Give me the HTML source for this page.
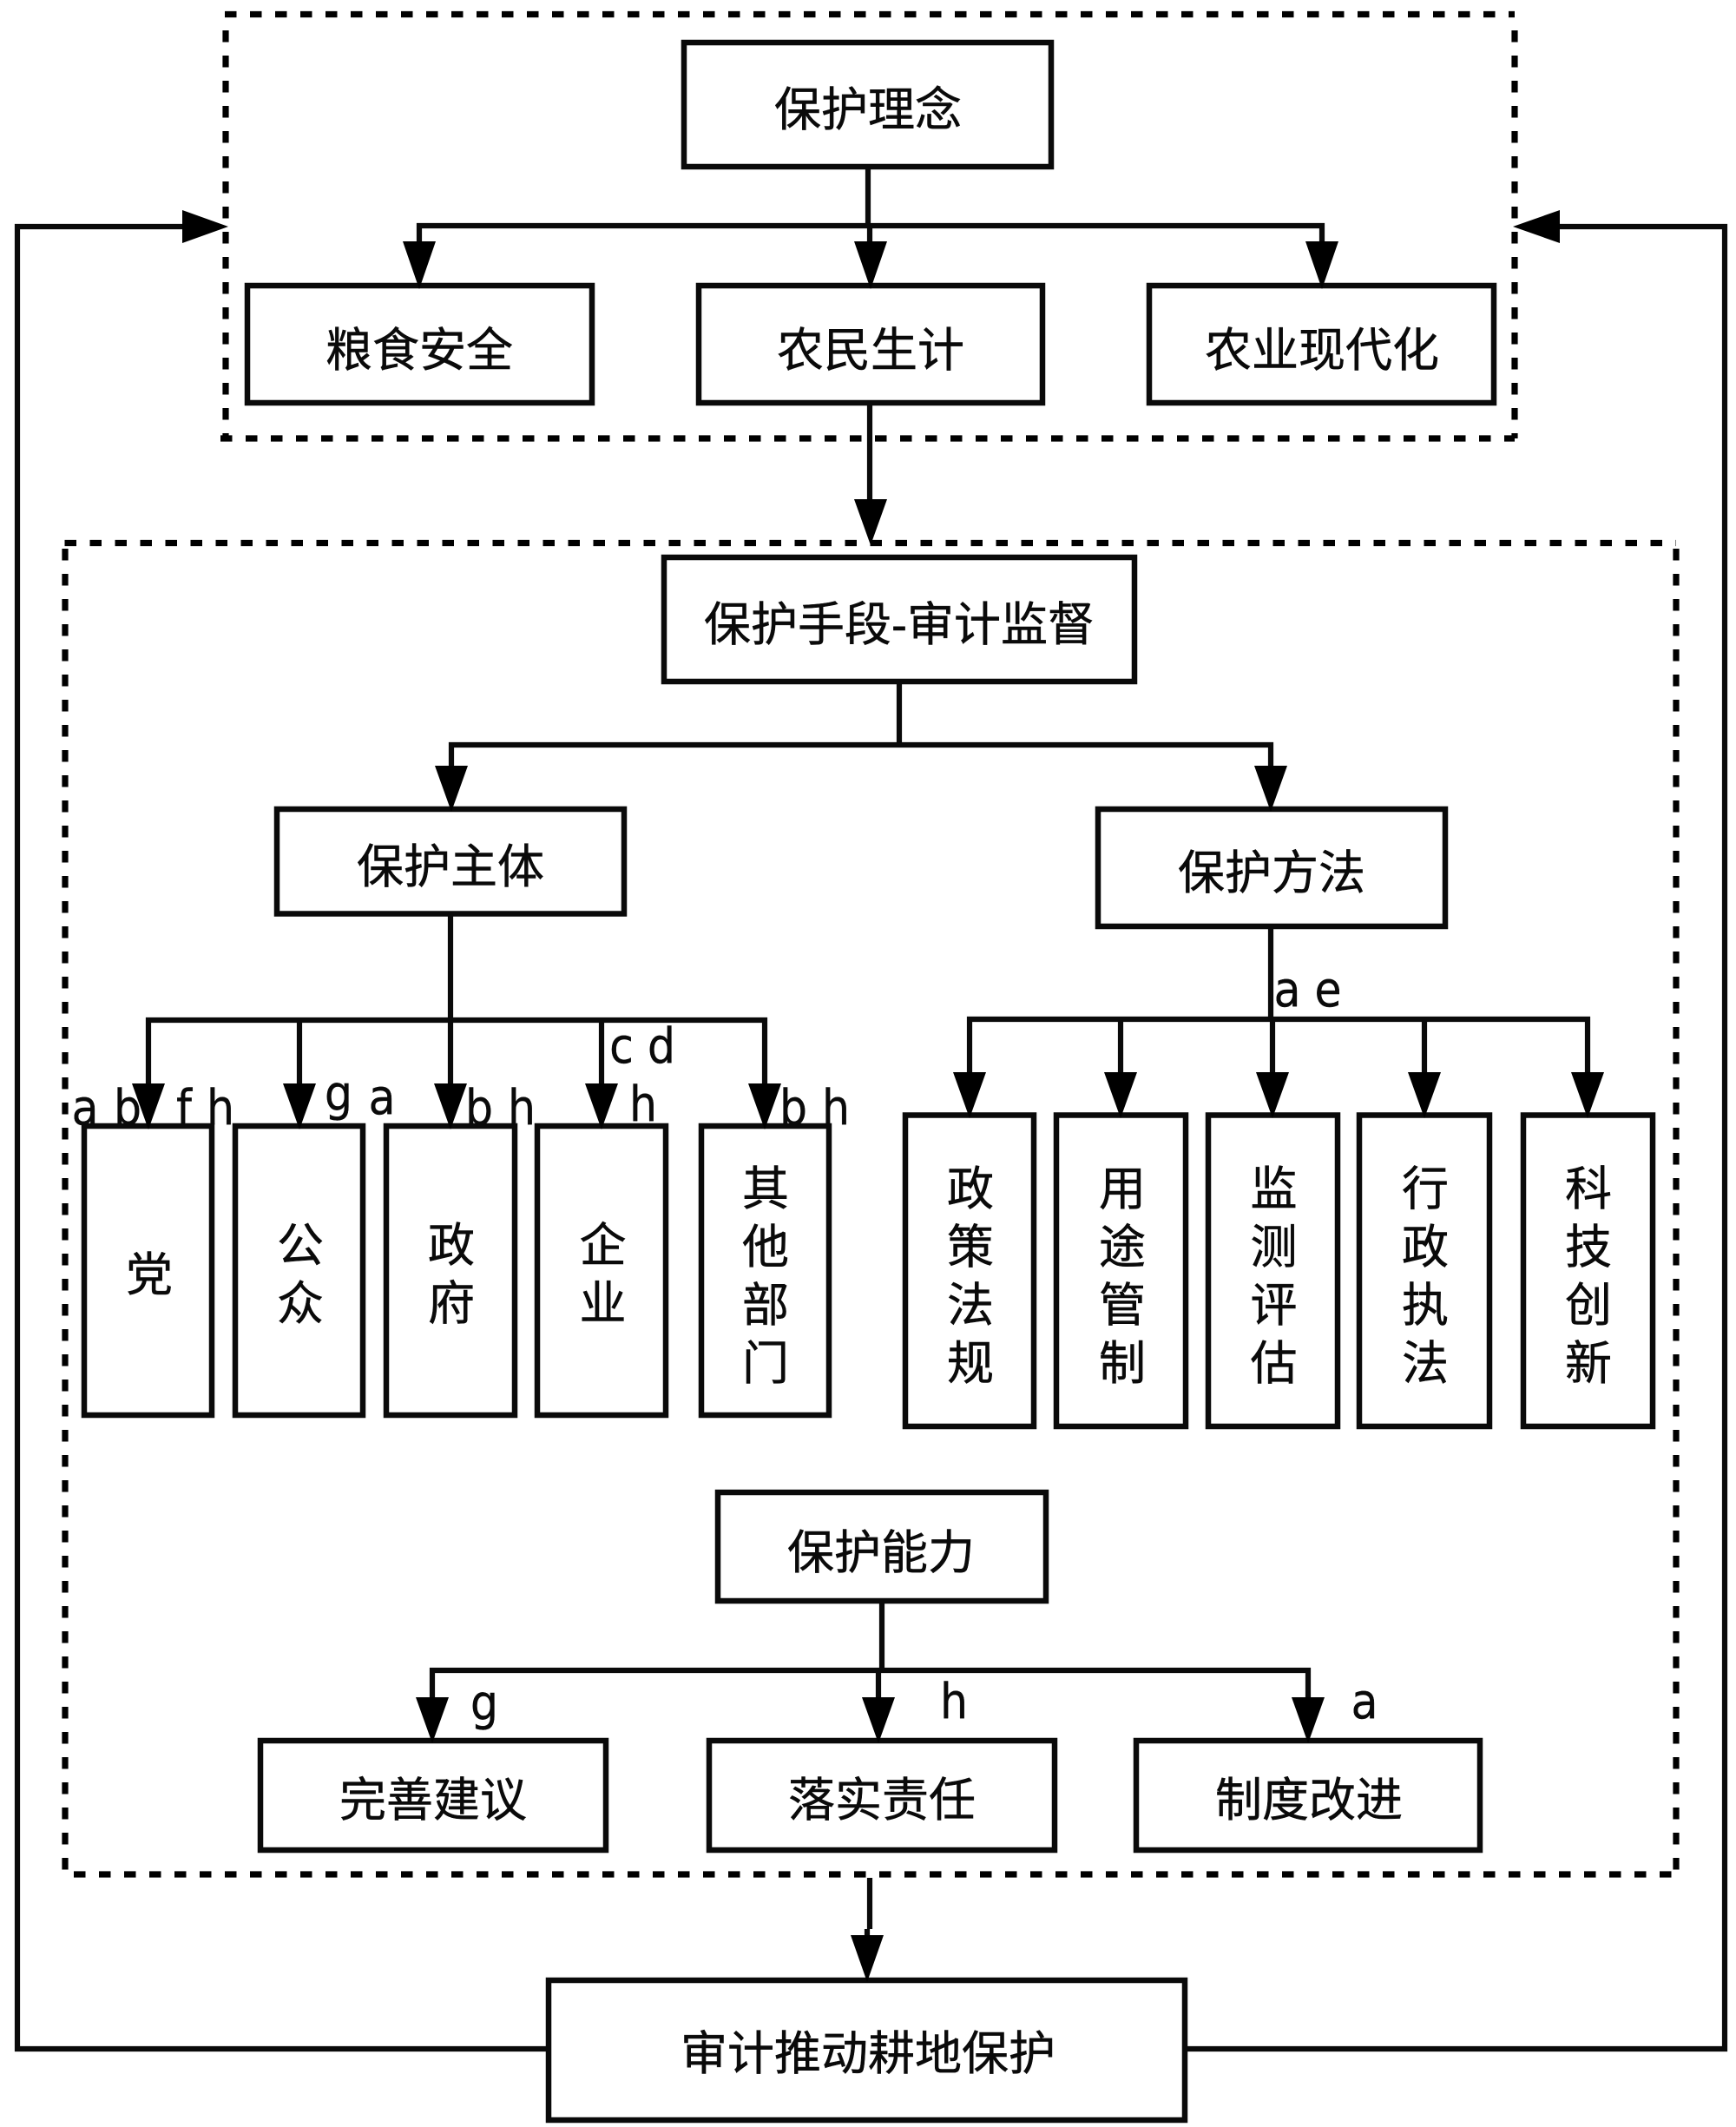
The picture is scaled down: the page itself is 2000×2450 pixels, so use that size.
<!DOCTYPE html>
<html><head><meta charset="utf-8"><style>
html,body{margin:0;padding:0;background:#fff}
svg{display:block}
.z{font-family:"Liberation Sans","Noto Sans CJK SC",sans-serif;font-size:54px;text-anchor:middle;fill:#0a0a0a;stroke:#0a0a0a;stroke-width:.5}
.l{font-family:"DejaVu Sans Condensed","DejaVu Sans",sans-serif;font-stretch:condensed;font-size:56px;text-anchor:middle;fill:#0a0a0a;stroke:#0a0a0a;stroke-width:.4}
.b{fill:#fff;stroke:#0a0a0a;stroke-width:6.5}
.c{fill:none;stroke:#0a0a0a;stroke-width:6.2}
.d{stroke:#000;stroke-width:7.2;stroke-dasharray:13.5 15.5;fill:none}
.h{fill:#000}
</style></head><body>
<svg xmlns="http://www.w3.org/2000/svg" width="2000" height="2450" viewBox="0 0 2000 2450">
<rect width="2000" height="2450" fill="#fff"/>
<!-- dashed groups -->
<path class="d" d="M259 16.5H1745M260 35V505M1745 35V505M254 505H1745"/>
<path class="d" d="M74.5 625.5H1931M75 632V2159M1931 632V2159M85 2159H1931"/>
<!-- feedback -->
<path class="c" d="M632 2360H20V261H215"/>
<path class="c" d="M1365 2360H1987V261H1792"/>
<polygon class="h" points="210,242 263,261 210,280"/>
<polygon class="h" points="1797,242 1743,261 1797,280"/>
<!-- connectors -->
<path class="c" d="M1000 192V260M483 285V260H1523V285M1002 260V285"/>
<path class="c" d="M1002 464V580"/>
<path class="c" d="M1036 785V858M520 890V858H1464V890"/>
<path class="c" d="M519 1052V1175M171 1255V1175H881V1255M345 1175V1255M519 1175V1255M693 1175V1255"/>
<path class="c" d="M1464 1067V1174M1117 1240V1174H1829V1240M1291 1174V1240M1466 1174V1240M1641 1174V1240"/>
<path class="c" d="M1016 1844V1924M498 1960V1924H1507V1960M1012 1924V1960"/>
<path class="c" d="M1002 2163V2222M999 2222V2240"/>
<!-- boxes -->
<rect class="b" x="788" y="49" width="423" height="143"/>
<rect class="b" x="285" y="329" width="397" height="135"/>
<rect class="b" x="805" y="329" width="396" height="135"/>
<rect class="b" x="1324" y="329" width="397" height="135"/>
<rect class="b" x="765" y="642" width="542" height="143"/>
<rect class="b" x="319" y="932" width="400" height="120.5"/>
<rect class="b" x="1265" y="932" width="400" height="135"/>
<rect class="b" x="97" y="1297" width="147" height="333"/>
<rect class="b" x="271" y="1297" width="147" height="333"/>
<rect class="b" x="445" y="1297" width="148" height="333"/>
<rect class="b" x="619" y="1297" width="148" height="333"/>
<rect class="b" x="808" y="1297" width="147" height="333"/>
<rect class="b" x="1043" y="1284.5" width="148" height="358.5"/>
<rect class="b" x="1217" y="1284.5" width="149" height="358.5"/>
<rect class="b" x="1392" y="1284.5" width="149" height="358.5"/>
<rect class="b" x="1566" y="1284.5" width="150" height="358.5"/>
<rect class="b" x="1755" y="1284.5" width="149" height="358.5"/>
<rect class="b" x="827" y="1719" width="378" height="125"/>
<rect class="b" x="300" y="2005" width="398" height="126"/>
<rect class="b" x="817" y="2005" width="398" height="126"/>
<rect class="b" x="1309" y="2005" width="396" height="126"/>
<rect class="b" x="632" y="2281" width="733" height="161"/>
<!-- arrowheads -->
<polygon class="h" points="464,278 502,278 483,333"/>
<polygon class="h" points="984,278 1022,278 1003,333"/>
<polygon class="h" points="1504,278 1542,278 1523,333"/>
<polygon class="h" points="984,575 1022,575 1003,628"/>
<polygon class="h" points="501,882 539,882 520,935"/>
<polygon class="h" points="1445,882 1483,882 1464,935"/>
<polygon class="h" points="152,1248 190,1248 171,1301"/>
<polygon class="h" points="326,1248 364,1248 345,1301"/>
<polygon class="h" points="500,1248 538,1248 519,1301"/>
<polygon class="h" points="674,1248 712,1248 693,1301"/>
<polygon class="h" points="862,1248 900,1248 881,1301"/>
<polygon class="h" points="1098,1235 1136,1235 1117,1288"/>
<polygon class="h" points="1272,1235 1310,1235 1291,1288"/>
<polygon class="h" points="1447,1235 1485,1235 1466,1288"/>
<polygon class="h" points="1622,1235 1660,1235 1641,1288"/>
<polygon class="h" points="1810,1235 1848,1235 1829,1288"/>
<polygon class="h" points="479,1955 517,1955 498,2008"/>
<polygon class="h" points="993,1955 1031,1955 1012,2008"/>
<polygon class="h" points="1488,1955 1526,1955 1507,2008"/>
<polygon class="h" points="980,2229 1018,2229 999,2283"/>
<!-- horizontal labels -->
<text class="z" x="1000" y="145">保护理念</text>
<text class="z" x="483" y="422">粮食安全</text>
<text class="z" x="1003" y="422">农民生计</text>
<text class="z" x="1523" y="422">农业现代化</text>
<text class="z" x="1036" y="738">保护手段-审计监督</text>
<text class="z" x="519" y="1017">保护主体</text>
<text class="z" x="1465" y="1024">保护方法</text>
<text class="z" x="1015" y="1807">保护能力</text>
<text class="z" x="499" y="2092">完善建议</text>
<text class="z" x="1016" y="2092">落实责任</text>
<text class="z" x="1508" y="2092">制度改进</text>
<text class="z" x="1000" y="2384">审计推动耕地保护</text>
<!-- vertical labels -->
<text class="z" x="172" y="1487">党</text>
<text class="z" x="346" y="1453">公</text><text class="z" x="346" y="1520">众</text>
<text class="z" x="520" y="1453">政</text><text class="z" x="520" y="1520">府</text>
<text class="z" x="694.5" y="1453">企</text><text class="z" x="694.5" y="1520">业</text>
<text class="z" x="882" y="1388">其</text><text class="z" x="882" y="1455">他</text><text class="z" x="882" y="1522">部</text><text class="z" x="882" y="1589">门</text>
<text class="z" x="1118" y="1388">政</text><text class="z" x="1118" y="1455">策</text><text class="z" x="1118" y="1522">法</text><text class="z" x="1118" y="1589">规</text>
<text class="z" x="1293" y="1388">用</text><text class="z" x="1293" y="1455">途</text><text class="z" x="1293" y="1522">管</text><text class="z" x="1293" y="1589">制</text>
<text class="z" x="1467.5" y="1388">监</text><text class="z" x="1467.5" y="1455">测</text><text class="z" x="1467.5" y="1522">评</text><text class="z" x="1467.5" y="1589">估</text>
<text class="z" x="1642" y="1388">行</text><text class="z" x="1642" y="1455">政</text><text class="z" x="1642" y="1522">执</text><text class="z" x="1642" y="1589">法</text>
<text class="z" x="1830" y="1388">科</text><text class="z" x="1830" y="1455">技</text><text class="z" x="1830" y="1522">创</text><text class="z" x="1830" y="1589">新</text>
<!-- letter labels -->
<text class="l" x="98" y="1295">a</text><text class="l" x="147" y="1295">b</text><text class="l" x="212" y="1295">f</text><text class="l" x="254" y="1295">h</text>
<text class="l" x="390" y="1279">g</text><text class="l" x="440" y="1283">a</text>
<text class="l" x="552" y="1295">b</text><text class="l" x="601" y="1295">h</text>
<text class="l" x="716" y="1224">c</text><text class="l" x="762" y="1224">d</text>
<text class="l" x="741" y="1291">h</text>
<text class="l" x="914" y="1295">b</text><text class="l" x="963" y="1295">h</text>
<text class="l" x="1483" y="1159">a</text><text class="l" x="1530" y="1159">e</text>
<text class="l" x="558" y="1981">g</text><text class="l" x="1099" y="1979">h</text><text class="l" x="1572" y="1979">a</text>
</svg>
</body></html>
